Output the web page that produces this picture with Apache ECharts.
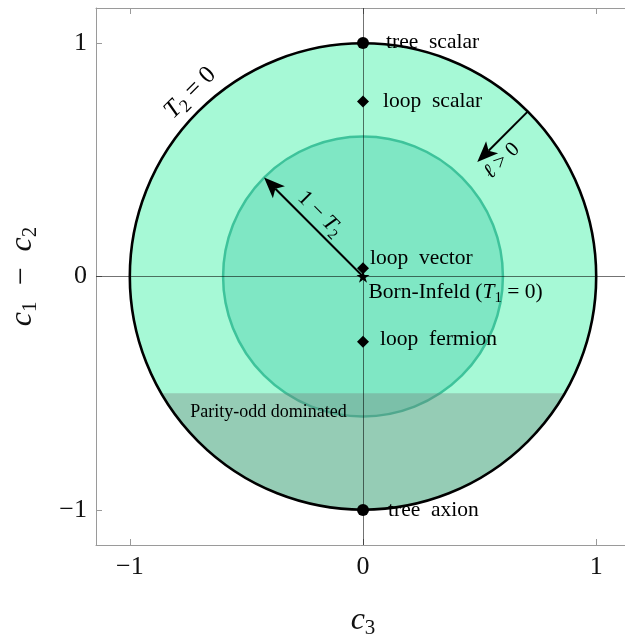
<!DOCTYPE html>
<html>
<head>
<meta charset="utf-8">
<script src="https://cdn.jsdelivr.net/npm/echarts@6/dist/echarts.min.js"></script>
<style>
  html, body { margin: 0; padding: 0; background: #ffffff; }
  #chart { width: 625px; height: 636px; }
</style>
</head>
<body>
<div id="chart"></div>
<script>
// Allowed disks in the (c3, c1 - c2) plane: [centre c3, centre c1-c2, radius]
const outerDisk = [0, 0, 1];
const innerDisk = [0, 0, 0.6];
// Parity-odd dominated part: the unit disk below this value of c1 - c2
const parityOddBelow = -0.5;

// Marked theories
const pointNames = ['{t|tree  scalar}', '{t|loop  scalar}', '{t|loop  vector}', '{t|Born-Infeld (}{it|T}{sub|1}{t| = 0)}', '{t|loop  fermion}', '{t|tree  axion}'];
const pointC3 = [0, 0, 0, 0, 0, 0];
const pointC12 = [1, 0.75, 0.035, 0, -0.28, -1];
const pointShapes = ['circle', 'diamond', 'diamond', 'star', 'diamond', 'circle'];

// Arrows: start and end in data units
const arrowStart = [[0, 0], [0.7071, 0.7071]];
const arrowEnd = [[-0.4243, 0.4243], [0.49, 0.49]];

// Tick values on both axes
const tickValues = [-1, 0, 1];

// Free-standing annotations
const noteTexts = ['1 − {it|T}{sub|2}', '{it|ℓ} > 0', '{it|T}{sub|2} = 0', 'Parity-odd dominated'];
const noteAnchors = [[-0.184, 0.268], [0.595, 0.495], [-0.741, 0.786], [-0.741, -0.58]];
const noteAngles = [-45, 45, 45, 0];

const SERIF = '"Liberation Serif", "DejaVu Serif", serif';
const STAR = 'path://M50 0 L61.17 34.63 L97.55 34.55 L68.07 55.87 L79.39 90.45 L50 69 L20.61 90.45 L31.93 55.87 L2.45 34.55 L38.83 34.63 Z';
const INK = '#000000';

const chart = echarts.init(document.getElementById('chart'), null, { renderer: 'canvas' });

function tickFmt(v) { return v < 0 ? '\u2212' + Math.abs(v) : String(v); }

const axisGrey = '#9a9a9a';

function diskRenderer(fill, stroke, lineWidth) {
  return function (params, api) {
    const c = api.coord([api.value(0), api.value(1)]);
    const r = api.size([api.value(2), 0])[0];
    return {
      type: 'circle',
      shape: { cx: c[0], cy: c[1], r: r },
      style: { fill: fill, stroke: stroke, lineWidth: lineWidth }
    };
  };
}

function subRich(size) {
  return {
    t: { fontFamily: SERIF, fontSize: size, lineHeight: size * 1.25, color: INK },
    it: { fontFamily: SERIF, fontStyle: 'italic', fontSize: size, lineHeight: size * 1.25, color: INK },
    sub: { fontFamily: SERIF, fontSize: Math.round(size * 0.7), lineHeight: Math.round(size * 0.7), verticalAlign: 'bottom', color: INK }
  };
}

// Point labels: placement relative to each marker
const labelPlace = [
  { distance: 17, offset: [0, -1] },
  { distance: 14, offset: [0, 0] },
  { distance: 1, offset: [0, -10] },
  { distance: -1, offset: [0, 16] },
  { distance: 11, offset: [0, -3] },
  { distance: 19, offset: [0, 0] }
];
const markerSizes = { circle: 12, diamond: 12, star: 13 };

const pointData = pointNames.map(function (name, i) {
  const shape = pointShapes[i];
  return {
    name: name,
    value: [pointC3[i], pointC12[i]],
    symbol: shape === 'star' ? STAR : shape,
    symbolSize: markerSizes[shape],
    symbolKeepAspect: true,
    label: {
      show: true,
      position: 'right',
      distance: labelPlace[i].distance,
      offset: labelPlace[i].offset,
      formatter: name,
      fontFamily: SERIF,
      fontSize: 21.5,
      lineHeight: 26,
      color: INK,
      opacity: 1,
      rich: subRich(21.5)
    }
  };
});

const option = {
  animation: false,
  backgroundColor: '#ffffff',
  grid: { left: 96, right: -5, top: 8, bottom: 91, containLabel: false, outerBoundsMode: 'none' },
  xAxis: [
    {
      type: 'value', min: -1.145, max: 1.145, position: 'bottom',
      axisLine: { show: true, onZero: false, lineStyle: { color: axisGrey, width: 1 } },
      axisTick: { show: true, inside: true, length: 6, customValues: tickValues, lineStyle: { color: axisGrey } },
      axisLabel: { show: true, customValues: tickValues, formatter: tickFmt, fontFamily: SERIF, fontSize: 26, color: '#111', margin: 9 },
      splitLine: { show: false },
      name: '{c|c}{s|3}', nameLocation: 'middle', nameGap: 58,
      nameTextStyle: {
        rich: {
          c: { fontFamily: SERIF, fontStyle: 'italic', fontSize: 32, lineHeight: 36, color: '#111' },
          s: { fontFamily: SERIF, fontSize: 21, lineHeight: 21, verticalAlign: 'bottom', color: '#111' }
        }
      }
    },
    {
      type: 'value', min: -1.145, max: 1.145, position: 'top',
      axisLine: { show: true, onZero: false, lineStyle: { color: axisGrey, width: 1 } },
      axisTick: { show: true, inside: true, length: 6, customValues: tickValues, lineStyle: { color: axisGrey } },
      axisLabel: { show: false },
      splitLine: { show: false }
    }
  ],
  yAxis: [
    {
      type: 'value', min: -1.15, max: 1.15, position: 'left',
      axisLine: { show: true, onZero: false, lineStyle: { color: axisGrey, width: 1 } },
      axisTick: { show: true, inside: true, length: 6, customValues: tickValues, lineStyle: { color: axisGrey } },
      axisLabel: { show: true, customValues: tickValues, formatter: tickFmt, fontFamily: SERIF, fontSize: 26, color: '#111', margin: 9 },
      splitLine: { show: false },
      name: '{c|c}{s|1}{m|\u2002\u2212\u2002}{c|c}{s|2}', nameLocation: 'middle', nameGap: 55, nameRotate: 90,
      nameTextStyle: {
        rich: {
          c: { fontFamily: SERIF, fontStyle: 'italic', fontSize: 32, lineHeight: 36, color: '#111' },
          m: { fontFamily: SERIF, fontSize: 32, lineHeight: 36, color: '#111' },
          s: { fontFamily: SERIF, fontSize: 21, lineHeight: 21, verticalAlign: 'bottom', color: '#111' }
        }
      }
    }
  ],
  series: [
    {
      name: 'outer fill', type: 'custom', silent: true, z: 1,
      renderItem: diskRenderer('#a6f9d6', 'none', 0),
      data: [outerDisk]
    },
    {
      name: 'inner disk', type: 'custom', silent: true, z: 2,
      renderItem: diskRenderer('#7fe7c4', '#3ec39b', 2.5),
      data: [innerDisk]
    },
    {
      name: 'parity-odd', type: 'custom', silent: true, z: 3,
      renderItem: function (params, api) {
        const yc = api.value(0);
        const R = api.value(1);
        const hx = Math.sqrt(R * R - yc * yc);
        const a = api.coord([-hx, yc]);
        const b = api.coord([hx, yc]);
        const rp = api.size([R, 0])[0];
        return {
          type: 'path',
          shape: { pathData: 'M' + a[0] + ' ' + a[1] + ' A' + rp + ' ' + rp + ' 0 0 0 ' + b[0] + ' ' + b[1] + ' Z' },
          style: { fill: 'rgba(118,118,118,0.34)' }
        };
      },
      data: [[parityOddBelow, outerDisk[2]]]
    },
    {
      name: 'outer edge', type: 'custom', silent: true, z: 4,
      renderItem: diskRenderer('none', '#000000', 2.6),
      data: [outerDisk],
      markLine: {
        silent: true, symbol: 'none', animation: false,
        label: { show: false },
        lineStyle: { color: 'rgba(0,0,0,0.55)', width: 1, type: 'solid' },
        data: [{ xAxis: 0 }, { yAxis: 0 }]
      }
    },
    {
      name: 'arrows', type: 'custom', silent: true, z: 5,
      renderItem: function (params, api) {
        const p0 = api.coord([api.value(0), api.value(1)]);
        const p1 = api.coord([api.value(2), api.value(3)]);
        const dx = p1[0] - p0[0], dy = p1[1] - p0[1];
        const len = Math.sqrt(dx * dx + dy * dy);
        const ux = dx / len, uy = dy / len;
        const nx = -uy, ny = ux;
        const L = 21, W = 8.5, notch = 16;
        const bx = p1[0] - ux * L, by = p1[1] - uy * L;
        return {
          type: 'group',
          children: [
            {
              type: 'line',
              shape: { x1: p0[0], y1: p0[1], x2: p1[0] - ux * notch, y2: p1[1] - uy * notch },
              style: { stroke: '#000', lineWidth: 2 }
            },
            {
              type: 'polygon',
              shape: {
                points: [
                  [p1[0], p1[1]],
                  [bx + nx * W, by + ny * W],
                  [p1[0] - ux * notch, p1[1] - uy * notch],
                  [bx - nx * W, by - ny * W]
                ]
              },
              style: { fill: '#000' }
            }
          ]
        };
      },
      data: arrowStart.map(function (s, i) { return [s[0], s[1], arrowEnd[i][0], arrowEnd[i][1]]; })
    },
    {
      name: 'notes', type: 'custom', silent: true, z: 6,
      renderItem: function (params, api) {
        const i = params.dataIndex;
        const p = api.coord([api.value(0), api.value(1)]);
        const last = i === noteTexts.length - 1;
        const size = last ? 18 : (i === 1 ? 21 : (i === 2 ? 25 : 22));
        return {
          type: 'text',
          x: p[0], y: p[1],
          rotation: noteAngles[i] * Math.PI / 180,
          style: {
            text: noteTexts[i],
            fontFamily: SERIF,
            fontSize: size,
            lineHeight: size * 1.25,
            fill: INK,
            align: last ? 'left' : 'center',
            verticalAlign: 'middle',
            rich: subRich(size)
          }
        };
      },
      data: noteAnchors
    },
    {
      name: 'theories', type: 'scatter', z: 7,
      itemStyle: { color: '#000', opacity: 1 },
      data: pointData
    }
  ]
};

chart.setOption(option);
</script>
</body>
</html>
